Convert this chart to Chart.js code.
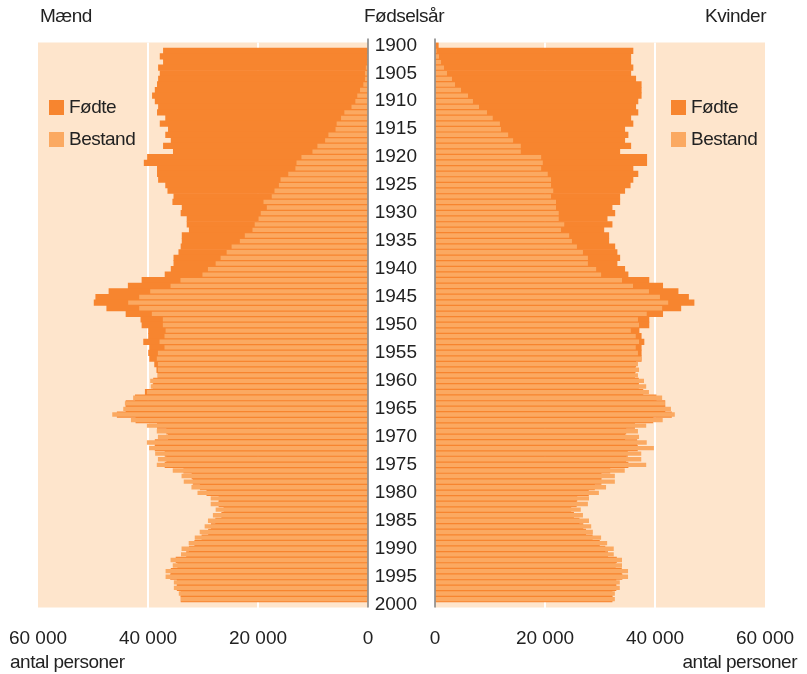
<!DOCTYPE html>
<html>
<head>
<meta charset="utf-8">
<script src="https://cdn.jsdelivr.net/npm/chart.js@4/dist/chart.umd.min.js"></script>
<style>
  body { margin: 0; background: #fff; }
  #wrap { position: relative; width: 807px; height: 674px; overflow: hidden;
          font-family: "Liberation Sans", Arial, sans-serif; color: #222; }
  canvas { position: absolute; top: 0; }
  .t { position: absolute; font-size: 19px; line-height: 20px; letter-spacing: -0.5px; white-space: nowrap; }
  .sw { position: absolute; width: 15px; height: 15px; }
</style>
</head>
<body>
<div id="wrap">
  <canvas id="men" width="380" height="674" style="left:0"></canvas>
  <canvas id="women" width="439" height="674" style="left:368px"></canvas>

  <div class="t" style="left:40px;top:6px">Mænd</div>
  <div class="t" style="left:404px;top:6px;transform:translateX(-50%)">Fødselsår</div>
  <div class="t" style="right:41px;top:6px">Kvinder</div>

  <div class="sw" style="left:49px;top:100px;background:#f7852f"></div>
  <div class="t" style="left:69px;top:97px">Fødte</div>
  <div class="sw" style="left:49px;top:132px;background:#fba961"></div>
  <div class="t" style="left:69px;top:129px">Bestand</div>

  <div class="sw" style="left:671px;top:100px;background:#f7852f"></div>
  <div class="t" style="left:691px;top:97px">Fødte</div>
  <div class="sw" style="left:671px;top:132px;background:#fba961"></div>
  <div class="t" style="left:691px;top:129px">Bestand</div>

  <div class="t" style="left:10px;top:652px">antal personer</div>
  <div class="t" style="right:10px;top:652px">antal personer</div>
</div>
<script>
// fødselsår 1900-2000
const years = [];
for (let y = 1900; y <= 2000; y++) years.push(y);

const menBorn = [null,
  37200, 37800, 37200, 38100, 37800, 38100, 38300, 38700, 39200, 38700,
  38100, 38300, 36800, 37800, 36300, 36800, 35800, 37200, 35400, 40100,
  40700, 38300, 38300, 38100, 36800, 36400, 35300, 35500, 33800, 34000,
  32900, 32900, 32500, 33800, 33800, 34000, 34400, 35300, 35300, 35800,
  36900, 41100, 43600, 47100, 49500, 49800, 47500, 44000, 41300, 41100,
  39900, 39900, 40800, 39700, 39900, 39700, 38800, 38400, 38200, 39000,
  39100, 40500, 42300, 44000, 44000, 45600, 42200, 38300, 36600, 36300,
  38700, 38700, 36900, 36600, 36900, 33500, 32000, 31800, 30500, 29300,
  27100, 27100, 26200, 26600, 27700, 28500, 29000, 30200, 31500, 32500,
  33000, 34900, 34600, 35800, 35900, 34700, 34700, 34000, 34000,
  null];

const menStock = [null,
  100, 180, 200, 400, 550, 550, 850, 1450, 1950, 2300,
  3000, 4300, 4900, 5700, 5900, 7200, 7800, 9200, 10100, 12100,
  13000, 13200, 14500, 15900, 16200, 17000, 17500, 19000, 18400, 19500,
  19900, 20600, 21000, 22400, 23300, 24800, 25700, 26800, 27700, 29100,
  30100, 34100, 35900, 39600, 41600, 43600, 41600, 39300, 37300, 37300,
  36800, 37000, 37900, 37000, 38200, 38400, 38200, 38200, 38200, 39600,
  39500, 40200, 42700, 44200, 44500, 46500, 43100, 40200, 38400, 38200,
  40200, 39800, 38700, 38200, 38400, 35500, 33900, 33500, 32100, 31000,
  28600, 28600, 27700, 28200, 29100, 29700, 30600, 31500, 32600, 33900,
  34000, 35900, 35500, 36800, 36800, 35300, 35300, 34400, 34000,
  null];

const womenBorn = [600,
  36000, 35600, 35600, 36000, 35600, 36500, 37500, 37500, 37500, 36900,
  36500, 36900, 35600, 36000, 34500, 35100, 34500, 35600, 33600, 38500,
  38500, 36000, 36900, 36000, 35500, 34500, 33600, 33600, 32200, 32700,
  31300, 32200, 30700, 31600, 31600, 32700, 33100, 33600, 33100, 34500,
  35100, 38900, 41400, 44200, 46100, 47100, 44700, 41400, 38900, 38900,
  37100, 37500, 38000, 37500, 37500, 37500, 36500, 36400, 36300, 37000,
  37000, 37800, 40200, 41800, 41800, 43000, 39600, 36300, 34700, 34500,
  36700, 36800, 35000, 34700, 35100, 31800, 30200, 30200, 29000, 27900,
  25800, 25700, 24700, 25200, 26200, 26900, 27400, 28600, 29900, 30900,
  31400, 33000, 32800, 33900, 34000, 32900, 32900, 32200, 32200,
  null];

const womenStock = [null,
  300, 730, 1100, 1640, 2180, 3090, 3640, 4730, 6000, 6900,
  8000, 9450, 10500, 11800, 12000, 13300, 14200, 15600, 15600, 19300,
  19600, 19300, 20500, 21100, 21100, 21500, 21100, 22000, 22000, 22500,
  22500, 23500, 22900, 24400, 24900, 25800, 26900, 27800, 27800, 29300,
  30200, 34000, 36000, 38900, 40900, 42400, 41300, 38500, 36900, 37100,
  35600, 36500, 37100, 36500, 36900, 37500, 36900, 37100, 36900, 38000,
  38400, 38900, 41300, 41800, 42900, 43600, 41400, 38400, 36900, 37100,
  38500, 39800, 37500, 37500, 38400, 34500, 32700, 32700, 31100, 29800,
  28000, 27800, 26500, 26900, 28000, 28400, 28700, 30200, 31300, 32500,
  32500, 34000, 34000, 35100, 35100, 33600, 33600, 32700, 32700,
  null];

const xTicks = [0, 20000, 40000, 60000];

const DARK = '#f7852f';
const LIGHT = '#fba961';
const BG = '#fee5cc';
const FONT = { family: '"Liberation Sans", Arial, sans-serif', size: 19 };

Chart.defaults.font.family = FONT.family;
Chart.defaults.color = '#222';

const panel = {
  id: 'panel',
  beforeDraw(chart) {
    const { ctx, chartArea: a } = chart;
    ctx.save();
    ctx.fillStyle = BG;
    ctx.fillRect(a.left, a.top, a.right - a.left, a.bottom - a.top);
    ctx.restore();
  },
  afterDatasetsDraw(chart) {
    const { ctx, chartArea: a } = chart;
    const x = chart.scales.x.getPixelForValue(0);
    ctx.save();
    ctx.strokeStyle = '#808080';
    ctx.lineWidth = 1.5;
    ctx.beginPath();
    ctx.moveTo(x, a.top - 4);
    ctx.lineTo(x, a.bottom);
    ctx.stroke();
    ctx.restore();
  }
};

function fmt(v) {
  return v === 0 ? '0' : (v / 1000) + ' 000';
}

function makeChart(id, born, stock, left) {
  const yScale = left
    ? { type: 'category', display: false }
    : {
        type: 'category',
        position: 'left',
        grid: { display: false },
        border: { display: false },
        ticks: {
          autoSkip: false,
          crossAlign: 'center',
          padding: 10,
          font: FONT,
          color: '#222',
          callback: (v, i) => (years[i] % 5 === 0 ? String(years[i]) : '')
        },
        afterFit: s => { s.width = 67; }
      };

  return new Chart(document.getElementById(id), {
    type: 'bar',
    data: {
      labels: years,
      datasets: [
        { label: 'Fødte', data: born, backgroundColor: DARK, grouped: false,
          barPercentage: 1, categoryPercentage: 1, order: 2 },
        { label: 'Bestand', data: stock, backgroundColor: LIGHT, grouped: false,
          barPercentage: 0.78, categoryPercentage: 1, order: 1 }
      ]
    },
    options: {
      indexAxis: 'y',
      responsive: false,
      animation: false,
      layout: { padding: left ? { left: 38, right: 12, top: 42.5, bottom: 0 }
                               : { left: 0, right: 42, top: 42.5, bottom: 0 } },
      plugins: { legend: { display: false }, tooltip: { enabled: false } },
      scales: {
        x: {
          min: 0,
          max: 60000,
          reverse: left,
          afterBuildTicks: s => { s.ticks = xTicks.map(v => ({ value: v })); },
          afterFit: s => { s.height = 674 - 607.5; },
          grid: {
            drawTicks: true,
            tickLength: 20,
            tickColor: 'rgba(0,0,0,0)',
            lineWidth: 2,
            color: c => (c.tick && (c.tick.value === 20000 || c.tick.value === 40000) ? '#ffffff' : 'rgba(0,0,0,0)')
          },
          border: { display: false },
          ticks: { padding: 0, font: FONT, color: '#222', callback: v => fmt(v) }
        },
        y: yScale
      }
    },
    plugins: [panel]
  });
}

makeChart('men', menBorn, menStock, true);
makeChart('women', womenBorn, womenStock, false);
</script>
</body>
</html>
